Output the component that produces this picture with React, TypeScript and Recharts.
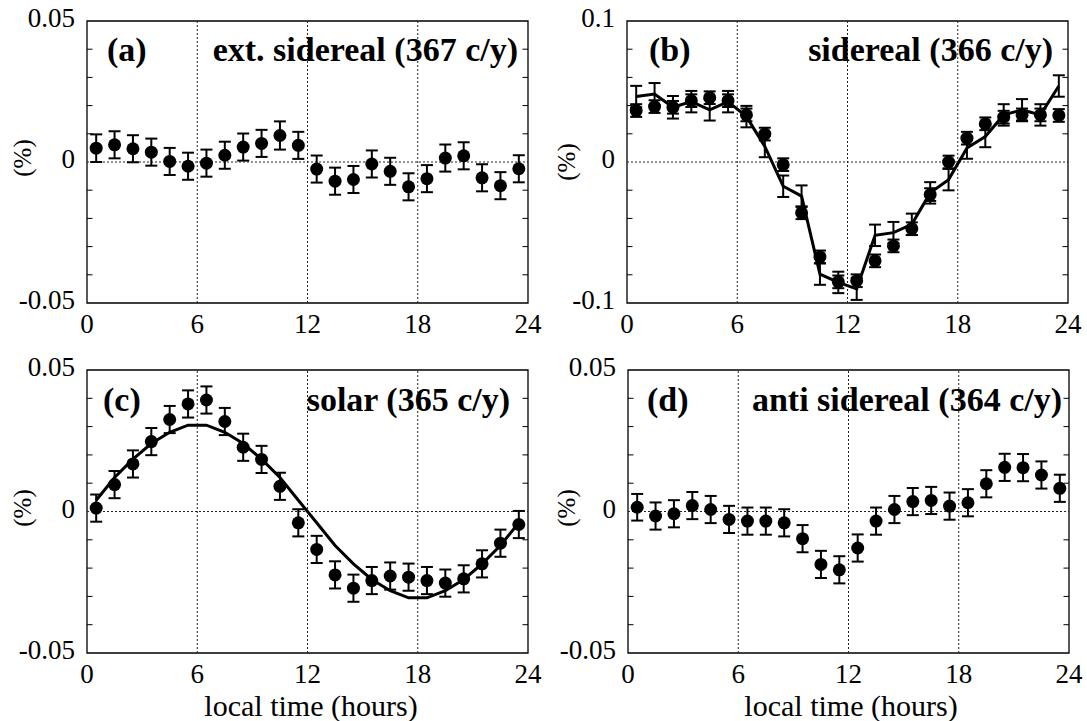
import React from 'react';
import {
  ComposedChart,
  Line,
  XAxis,
  YAxis,
  ReferenceLine,
  ReferenceArea,
  ErrorBar,
} from 'recharts';

// ─── Data ─────────────────────────────────────────────────────────────────────

const HOURS = [
  0.5, 1.5, 2.5, 3.5, 4.5, 5.5, 6.5, 7.5, 8.5, 9.5, 10.5, 11.5,
  12.5, 13.5, 14.5, 15.5, 16.5, 17.5, 18.5, 19.5, 20.5, 21.5, 22.5, 23.5,
];
const X_TICKS = [0, 6, 12, 18, 24];

// (a) ext. sidereal
const EXT_SID = [
  0.0049, 0.0061, 0.0047, 0.0035, 0.0002, -0.0015, -0.0004, 0.0024, 0.0053, 0.0066, 0.0094, 0.0059,
  -0.0025, -0.0068, -0.0062, -0.0007, -0.0033, -0.0088, -0.0059, 0.0014, 0.0022, -0.0056, -0.0084, -0.0024,
];
const EXT_SID_ERR = [
  0.0049, 0.0048, 0.0048, 0.0048, 0.0048, 0.0048, 0.0048, 0.0048, 0.0048, 0.0048, 0.005, 0.0048,
  0.0048, 0.0048, 0.0048, 0.0048, 0.0048, 0.0048, 0.0048, 0.0048, 0.0048, 0.0048, 0.0048, 0.0048,
];

// (b) sidereal — dots + fitted line
const SID = [
  0.0365, 0.0393, 0.0388, 0.0435, 0.0456, 0.0435, 0.0334, 0.0198, -0.0019, -0.036, -0.0673, -0.085,
  -0.0842, -0.0701, -0.0595, -0.0473, -0.0231, 0.0, 0.0169, 0.0271, 0.0318, 0.0334, 0.0334, 0.033,
];
const SID_ERR = [
  0.0045, 0.0045, 0.0045, 0.0045, 0.0045, 0.0045, 0.0045, 0.0045, 0.0045, 0.0045, 0.0045, 0.0045,
  0.0045, 0.0045, 0.0045, 0.0045, 0.0045, 0.0045, 0.0045, 0.0045, 0.0045, 0.0045, 0.0045, 0.0045,
];
const SID_FIT = [
  0.0464, 0.0482, 0.0388, 0.0428, 0.037, 0.0428, 0.0322, 0.011, -0.0172, -0.0242, -0.0795, -0.0854,
  -0.09, -0.052, -0.0501, -0.0442, -0.0219, -0.0125, 0.0099, 0.0181, 0.0334, 0.037, 0.0334, 0.0539,
];
const SID_FIT_ERR = [
  0.0076, 0.0078, 0.008, 0.0076, 0.0076, 0.0076, 0.0076, 0.0076, 0.0076, 0.0076, 0.0076, 0.0076,
  0.0078, 0.0076, 0.0076, 0.0076, 0.0076, 0.0076, 0.0076, 0.0076, 0.0076, 0.0076, 0.0076, 0.0076,
];

// (c) solar — dots + fitted curve
const SOLAR = [
  0.0012, 0.0095, 0.0168, 0.0247, 0.0325, 0.038, 0.0394, 0.0318, 0.0227, 0.0184, 0.0089, -0.004,
  -0.0134, -0.0224, -0.0271, -0.0244, -0.0228, -0.0232, -0.0244, -0.0253, -0.0238, -0.0185, -0.0112, -0.0046,
];
const SOLAR_ERR = [
  0.0048, 0.0048, 0.0048, 0.0048, 0.0048, 0.0048, 0.0048, 0.0048, 0.0048, 0.0048, 0.0048, 0.0048,
  0.0048, 0.0048, 0.0048, 0.0048, 0.0048, 0.0048, 0.0048, 0.0048, 0.0048, 0.0048, 0.0048, 0.0048,
];
const SOLAR_FIT = [
  0.004, 0.012, 0.0185, 0.024, 0.028, 0.0305, 0.0305, 0.028, 0.024, 0.0185, 0.012, 0.004,
  -0.004, -0.012, -0.0185, -0.024, -0.028, -0.0305, -0.0305, -0.028, -0.024, -0.0185, -0.012, -0.004,
];

// (d) anti sidereal
const ANTI_SID = [
  0.0015, -0.0016, -0.0008, 0.0021, 0.0007, -0.0028, -0.0034, -0.0034, -0.004, -0.0096, -0.0187, -0.0206,
  -0.0129, -0.0034, 0.0007, 0.0035, 0.0039, 0.0019, 0.0031, 0.0098, 0.0156, 0.0155, 0.0129, 0.0082,
];
const ANTI_SID_ERR = [
  0.0047, 0.0048, 0.0048, 0.0048, 0.0048, 0.0048, 0.0048, 0.0048, 0.0048, 0.0048, 0.0048, 0.0048,
  0.0048, 0.0048, 0.0048, 0.0048, 0.0048, 0.0048, 0.0048, 0.0048, 0.0048, 0.0048, 0.0048, 0.0048,
];

const MINOR_05 = [-0.04, -0.03, -0.02, -0.01, 0.01, 0.02, 0.03, 0.04];
const MINOR_10 = [-0.08, -0.06, -0.04, -0.02, 0.02, 0.04, 0.06, 0.08];

// ─── Styling ──────────────────────────────────────────────────────────────────

const SERIF = "'Liberation Serif', 'Times New Roman', Tinos, 'DejaVu Serif', serif";
const INK = '#000';
const tickText = { fontFamily: SERIF, fontSize: 27, fontWeight: 400, fill: INK } as const;

// ─── Small renderers ──────────────────────────────────────────────────────────

const Dot = (p: any) =>
  p.cx == null || p.cy == null ? null : <circle key={p.index} cx={p.cx} cy={p.cy} r={6.5} fill={INK} />;

const XTick = (p: any) => (
  <text x={p.x} y={p.y} dy={22} textAnchor="middle" fontFamily={SERIF} style={tickText}>
    {p.payload.value}
  </text>
);

const YTick = (p: any) => (
  <text x={p.x} y={p.y} dy={6} textAnchor="end" fontFamily={SERIF} style={tickText}>
    {p.payload.value}
  </text>
);

// ─── Panel ────────────────────────────────────────────────────────────────────

interface PanelProps {
  left: number;
  top: number;
  height: number;
  xAxisHeight: number;
  bottomMargin: number;
  yMax: number;
  minor: number[];
  values: number[];
  errors: number[];
  fit?: number[];
  fitErr?: number[];
}

function Panel(props: PanelProps) {
  const { left, top, height, xAxisHeight, bottomMargin, yMax, minor, values, errors, fit, fitErr } = props;
  const rows = HOURS.map((t, i) => ({
    t,
    v: values[i],
    e: errors[i],
    fit: fit ? fit[i] : null,
    fe: fitErr ? fitErr[i] : 0,
  }));
  const tickLen = 0.3;

  return (
    <div style={{ position: 'absolute', left, top, fontFamily: SERIF }}>
      <ComposedChart width={545} height={height} data={rows} margin={{ top: 21, right: 17, bottom: bottomMargin, left: 0 }}>
        <XAxis
          dataKey="t"
          type="number"
          domain={[0, 24]}
          ticks={X_TICKS}
          interval={0}
          allowDataOverflow
          tickLine={false}
          axisLine={false}
          tickSize={0}
          tickMargin={8}
          height={xAxisHeight}
          tick={XTick}
        />
        <YAxis
          type="number"
          domain={[-yMax, yMax]}
          ticks={[-yMax, 0, yMax]}
          interval={0}
          allowDataOverflow
          tickLine={false}
          axisLine={false}
          tickSize={0}
          tickMargin={12}
          width={87}
          tick={YTick}
        />

        {/* dotted grid */}
        {[6, 12, 18].map((x) => (
          <ReferenceLine key={`gx${x}`} x={x} stroke="#222" strokeWidth={1} strokeDasharray="2 2" />
        ))}
        <ReferenceLine y={0} stroke="#222" strokeWidth={1} strokeDasharray="2 2" />

        {/* inward minor ticks, both sides */}
        {minor.map((v) => (
          <ReferenceLine key={`ml${v}`} segment={[{ x: 0, y: v }, { x: tickLen, y: v }]} stroke={INK} strokeWidth={1} />
        ))}
        {minor.map((v) => (
          <ReferenceLine key={`mr${v}`} segment={[{ x: 24 - tickLen, y: v }, { x: 24, y: v }]} stroke={INK} strokeWidth={1} />
        ))}

        {/* frame */}
        <ReferenceArea x1={0} x2={24} y1={-yMax} y2={yMax} fill="none" fillOpacity={0} stroke={INK} strokeWidth={1.3} />

        <Line dataKey="v" stroke="none" dot={Dot} activeDot={false} isAnimationActive={false}>
          <ErrorBar dataKey="e" direction="y" width={6} strokeWidth={2} stroke={INK} />
        </Line>

        {fit && (
          <Line
            dataKey="fit"
            type="linear"
            stroke={INK}
            strokeWidth={3}
            dot={false}
            activeDot={false}
            isAnimationActive={false}
          >
            {fitErr && <ErrorBar dataKey="fe" direction="y" width={6} strokeWidth={2} stroke={INK} />}
          </Line>
        )}
      </ComposedChart>
    </div>
  );
}

// ─── Main ─────────────────────────────────────────────────────────────────────

export default function App() {
  const titleStyle = { fontFamily: SERIF, fontWeight: 700, fontSize: 34, fill: INK } as const;
  const pctStyle = { fontFamily: SERIF, fontSize: 25, fontWeight: 400, fill: INK } as const;
  const xLabelStyle = { fontFamily: SERIF, fontSize: 30, fontWeight: 400, fill: INK } as const;

  return (
    <div style={{ position: 'absolute', left: 0, top: 0, width: 1087, height: 721, background: '#fff', overflow: 'hidden' }}>
      <Panel left={0} top={0} height={360} xAxisHeight={40} bottomMargin={17} yMax={0.05} minor={MINOR_05}
        values={EXT_SID} errors={EXT_SID_ERR} />
      <Panel left={540} top={0} height={360} xAxisHeight={40} bottomMargin={17} yMax={0.1} minor={MINOR_10}
        values={SID} errors={SID_ERR} fit={SID_FIT} fitErr={SID_FIT_ERR} />
      <Panel left={0} top={349} height={372} xAxisHeight={68} bottomMargin={0} yMax={0.05} minor={MINOR_05}
        values={SOLAR} errors={SOLAR_ERR} fit={SOLAR_FIT} />
      <Panel left={541} top={349} height={372} xAxisHeight={68} bottomMargin={0} yMax={0.05} minor={MINOR_05}
        values={ANTI_SID} errors={ANTI_SID_ERR} />

      {/* panel titles, axis labels and y-axis units */}
      <svg width={1087} height={721} style={{ position: 'absolute', left: 0, top: 0, pointerEvents: 'none' }}>
        <text x={107} y={61} style={titleStyle}>(a)</text>
        <text x={518} y={61} textAnchor="end" style={titleStyle}>ext. sidereal (367 c/y)</text>
        <text x={649} y={61} style={titleStyle}>(b)</text>
        <text x={1053} y={61} textAnchor="end" style={titleStyle}>sidereal (366 c/y)</text>
        <text x={103} y={411} style={titleStyle}>(c)</text>
        <text x={510} y={411} textAnchor="end" style={titleStyle}>solar (365 c/y)</text>
        <text x={647} y={411} style={titleStyle}>(d)</text>
        <text x={1062} y={411} textAnchor="end" style={titleStyle}>anti sidereal (364 c/y)</text>

        <text x={311} y={716} textAnchor="middle" style={xLabelStyle}>local time (hours)</text>
        <text x={851} y={716} textAnchor="middle" style={xLabelStyle}>local time (hours)</text>

        <text x={22} y={158} transform="rotate(-90 22 158)" textAnchor="middle" dominantBaseline="central" style={pctStyle}>(%)</text>
        <text x={566} y={162} transform="rotate(-90 566 162)" textAnchor="middle" dominantBaseline="central" style={pctStyle}>(%)</text>
        <text x={22} y={508} transform="rotate(-90 22 508)" textAnchor="middle" dominantBaseline="central" style={pctStyle}>(%)</text>
        <text x={566} y={508} transform="rotate(-90 566 508)" textAnchor="middle" dominantBaseline="central" style={pctStyle}>(%)</text>
      </svg>
    </div>
  );
}
